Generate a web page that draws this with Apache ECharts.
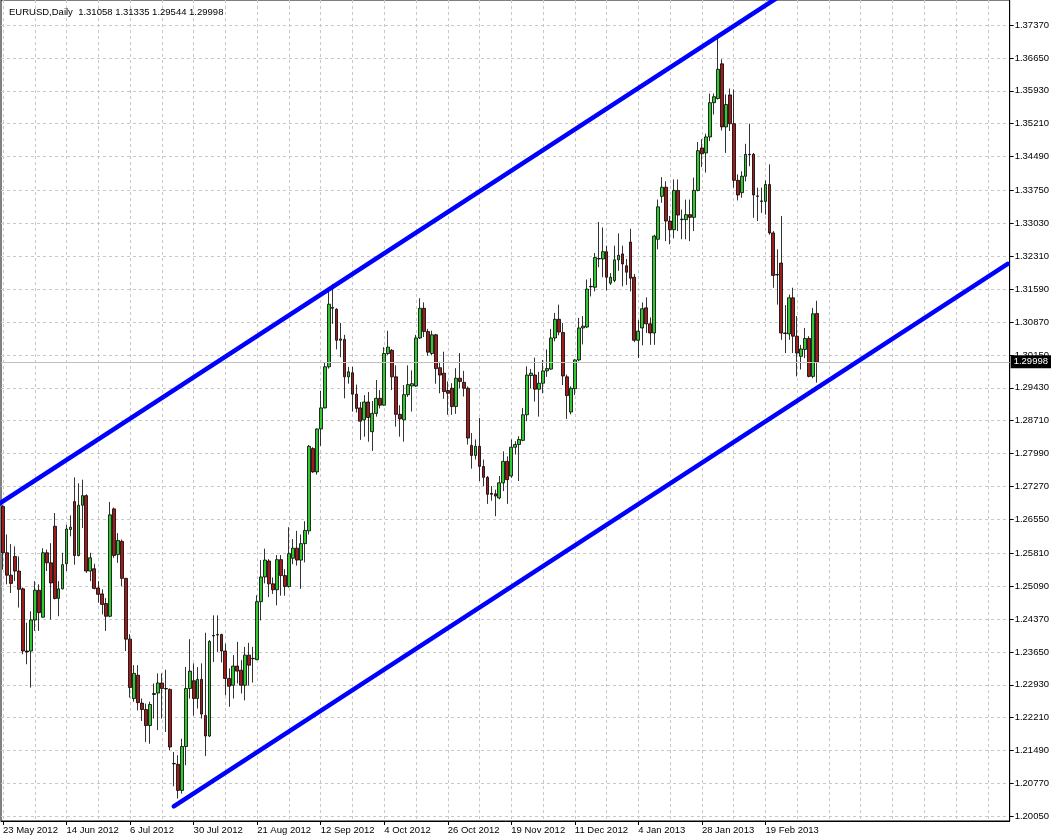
<!DOCTYPE html>
<html><head><meta charset="utf-8">
<script src="https://cdn.jsdelivr.net/npm/echarts@6/dist/echarts.min.js"></script>
<style>html,body{margin:0;padding:0;background:#fff}#c{width:1052px;height:839px}</style>
</head><body><div id="c"></div>
<script>
// ---- data (EURUSD daily) ----
const opens = [
1.2683,1.2582,1.2533,1.2574,1.2542,1.2503,1.2367,1.2367,1.2435,1.2500,
1.2441,1.2582,1.2560,1.2640,1.2482,1.2503,1.2558,1.2633,1.2694,1.2576,
1.2686,1.2707,1.2542,1.2547,1.2505,1.2492,1.2471,1.2443,1.2678,1.2578,
1.2607,1.2526,1.2393,1.2263,1.2314,1.2253,1.2239,1.2204,1.2272,1.2275,
1.2297,1.2285,1.2283,1.2121,1.2119,1.2062,1.2158,1.2285,1.2302,1.2263,
1.2305,1.2226,1.2181,1.2400,1.2402,1.2403,1.2367,1.2307,1.2292,1.2334,
1.2325,1.2292,1.2358,1.2350,1.2348,1.2475,1.2529,1.2564,1.2514,1.2501,
1.2567,1.2532,1.2508,1.2570,1.2592,1.2566,1.2602,1.2630,1.2810,1.2759,
1.2853,1.2899,1.2989,1.3117,1.3115,1.3047,1.3049,1.2967,1.2976,1.2929,
1.2899,1.2873,1.2912,1.2847,1.2887,1.2920,1.2905,1.3018,1.3025,1.2967,
1.2885,1.2873,1.2928,1.2947,1.2947,1.3052,1.3117,1.3066,1.3018,1.3059,
1.2987,1.2975,1.2937,1.2942,1.2902,1.2964,1.2955,1.2942,1.2817,1.2795,
1.2815,1.2771,1.2747,1.2712,1.2711,1.2702,1.2735,1.2782,1.2750,1.2813,
1.2819,1.2828,1.2884,1.2970,1.2971,1.2940,1.2953,1.2980,1.2984,1.3052,
1.3093,1.3064,1.2967,1.2890,1.2941,1.3004,1.3074,1.3076,1.3164,1.3163,
1.3225,1.3225,1.3241,1.3172,1.3178,1.3223,1.3236,1.3210,1.3262,1.3185,
1.3047,1.3074,1.3118,1.3083,1.3063,1.3268,1.3362,1.3382,1.3308,1.3289,
1.3375,1.3312,1.3311,1.3322,1.3316,1.3375,1.3468,1.3457,1.3492,1.3567,
1.3576,1.3652,1.3514,1.3584,1.3521,1.3397,1.3370,1.3406,1.3454,1.3454,
1.3363,1.3352,1.3351,1.3388,1.3282,1.3190,1.3216,1.3063,1.3061,1.3140,
1.3056,1.3012,1.3027,1.3051,1.2968,1.31058];
const highs = [
1.2687,1.2622,1.2601,1.2596,1.2574,1.2506,1.2429,1.2454,1.2520,1.2513,
1.2592,1.2589,1.2603,1.2669,1.2520,1.2582,1.2643,1.2664,1.2747,1.2734,
1.2742,1.2710,1.2582,1.2558,1.2520,1.2502,1.2483,1.2693,1.2681,1.2625,
1.2611,1.2527,1.2404,1.2336,1.2336,1.2263,1.2252,1.2256,1.2296,1.2318,
1.2318,1.2326,1.2285,1.2146,1.2139,1.2175,1.2332,1.2393,1.2340,1.2332,
1.2340,1.2407,1.2391,1.2445,1.2445,1.2405,1.2383,1.2329,1.2358,1.2387,
1.2347,1.2376,1.2385,1.2376,1.2489,1.2566,1.2591,1.2568,1.2528,1.2577,
1.2577,1.2546,1.2638,1.2612,1.2630,1.2622,1.2651,1.2818,1.2813,1.2854,
1.2936,1.2998,1.3159,1.3170,1.3117,1.3085,1.3059,1.2989,1.2989,1.2950,
1.2912,1.2927,1.2934,1.2914,1.2960,1.2938,1.3032,1.3068,1.3028,1.2992,
1.2905,1.2949,1.2992,1.2981,1.3059,1.3139,1.3130,1.3072,1.3068,1.3061,
1.3000,1.3022,1.2957,1.2953,1.2986,1.3019,1.2980,1.2946,1.2844,1.2830,
1.2877,1.2786,1.2750,1.2728,1.2720,1.2750,1.2804,1.2793,1.2830,1.2826,
1.2837,1.2899,1.2990,1.2984,1.3009,1.2978,1.3004,1.3027,1.3072,1.3107,
1.3125,1.3085,1.2972,1.2946,1.3006,1.3096,1.3100,1.3180,1.3183,1.3238,
1.3306,1.3294,1.3254,1.3194,1.3254,1.3281,1.3254,1.3225,1.3291,1.3192,
1.3091,1.3130,1.3141,1.3097,1.3278,1.3355,1.3404,1.3395,1.3319,1.3399,
1.3399,1.3333,1.3355,1.3355,1.3403,1.3481,1.3487,1.3499,1.3587,1.3587,
1.3713,1.3662,1.3585,1.3598,1.3596,1.3410,1.3417,1.3477,1.3521,1.3457,
1.3381,1.3381,1.3397,1.3432,1.3286,1.3246,1.3319,1.3124,1.3147,1.3162,
1.3100,1.3037,1.3074,1.3056,1.3118,1.31335];
const lows = [
1.2545,1.2513,1.2494,1.2520,1.2462,1.2360,1.2338,1.2287,1.2411,1.2411,
1.2440,1.2542,1.2436,1.2480,1.2443,1.2502,1.2542,1.2618,1.2556,1.2574,
1.2636,1.2538,1.2520,1.2502,1.2473,1.2447,1.2411,1.2441,1.2571,1.2560,
1.2509,1.2367,1.2265,1.2256,1.2237,1.2214,1.2168,1.2164,1.2219,1.2194,
1.2219,1.2190,1.2150,1.2071,1.2044,1.2055,1.2117,1.2263,1.2226,1.2241,
1.2219,1.2137,1.2179,1.2343,1.2365,1.2342,1.2270,1.2245,1.2263,1.2296,
1.2274,1.2259,1.2292,1.2298,1.2347,1.2434,1.2515,1.2485,1.2492,1.2467,
1.2488,1.2488,1.2506,1.2557,1.2554,1.2503,1.2561,1.2622,1.2757,1.2753,
1.2816,1.2898,1.2985,1.3083,1.3027,1.3010,1.2920,1.2952,1.2891,1.2889,
1.2829,1.2836,1.2825,1.2805,1.2880,1.2898,1.2904,1.3015,1.2938,1.2858,
1.2836,1.2825,1.2923,1.2891,1.2945,1.3050,1.3054,1.3013,1.3014,1.2952,
1.2931,1.2919,1.2884,1.2884,1.2886,1.2942,1.2924,1.2819,1.2766,1.2786,
1.2739,1.2728,1.2689,1.2696,1.2662,1.2699,1.2717,1.2689,1.2746,1.2797,
1.2739,1.2826,1.2870,1.2942,1.2913,1.2880,1.2931,1.2967,1.2982,1.3045,
1.3058,1.2949,1.2875,1.2885,1.2927,1.3001,1.3038,1.3074,1.3143,1.3154,
1.3207,1.3185,1.3156,1.3168,1.3174,1.3199,1.3165,1.3168,1.3154,1.3043,
1.3008,1.3036,1.3063,1.3037,1.3037,1.3246,1.3348,1.3264,1.3257,1.3270,
1.3286,1.3268,1.3268,1.3264,1.3286,1.3373,1.3426,1.3414,1.3483,1.3541,
1.3574,1.3506,1.3457,1.3505,1.3381,1.3353,1.3359,1.3395,1.3428,1.3315,
1.3308,1.3326,1.3322,1.3278,1.3162,1.3125,1.3048,1.3019,1.3048,1.3019,
1.2968,1.2983,1.3008,1.2966,1.2964,1.29544];
const closes = [
1.2582,1.2533,1.2515,1.2542,1.2502,1.2367,1.2365,1.2435,1.2500,1.2451,
1.2582,1.2560,1.2516,1.2482,1.2503,1.2556,1.2634,1.2638,1.2576,1.2686,
1.2707,1.2542,1.2571,1.2504,1.2491,1.2469,1.2443,1.2665,1.2576,1.2609,
1.2526,1.2393,1.2287,1.2318,1.2254,1.2239,1.2204,1.2250,1.2274,1.2297,
1.2285,1.2284,1.2157,1.2120,1.2062,1.2158,1.2285,1.2323,1.2263,1.2305,
1.2229,1.2181,1.2388,1.2401,1.2403,1.2367,1.2307,1.2290,1.2334,1.2323,
1.2292,1.2358,1.2336,1.2351,1.2475,1.2529,1.2566,1.2514,1.2501,1.2567,
1.2532,1.2508,1.2580,1.2592,1.2566,1.2602,1.2631,1.2815,1.2759,1.2853,
1.2899,1.2989,1.3126,1.3119,1.3047,1.3050,1.2967,1.2978,1.2929,1.2898,
1.2870,1.2912,1.2878,1.2887,1.2920,1.2905,1.3018,1.3032,1.2967,1.2885,
1.2875,1.2928,1.2950,1.2952,1.3052,1.3117,1.3066,1.3021,1.3059,1.2985,
1.2971,1.2935,1.2931,1.2902,1.2964,1.2957,1.2942,1.2833,1.2795,1.2815,
1.2771,1.2747,1.2710,1.2710,1.2706,1.2735,1.2782,1.2742,1.2813,1.2819,
1.2830,1.2884,1.2971,1.2975,1.2940,1.2953,1.2980,1.2985,1.3052,1.3093,
1.3065,1.2969,1.2926,1.2942,1.3004,1.3074,1.3078,1.3159,1.3165,1.3228,
1.3226,1.3241,1.3185,1.3185,1.3223,1.3233,1.3214,1.3196,1.3183,1.3047,
1.3067,1.3116,1.3083,1.3063,1.3275,1.3339,1.3382,1.3308,1.3289,1.3375,
1.3321,1.3311,1.3322,1.3316,1.3375,1.3462,1.3455,1.3492,1.3567,1.3580,
1.3640,1.3514,1.3563,1.3521,1.3397,1.3365,1.3406,1.3454,1.3453,1.3365,
1.3362,1.3351,1.3388,1.3282,1.3189,1.3191,1.3063,1.3062,1.3140,1.3056,
1.3019,1.3028,1.3051,1.2968,1.3105,1.29998];

// channel trend lines: [bar index, price]
const upperChannel = [[-1, 1.2689], [200, 1.3825]];
const lowerChannel = [[43, 1.2027], [253, 1.3214]];

const yTicks = [1.20050,1.20770,1.21490,1.22210,1.22930,1.23650,1.24370,1.25090,1.25810,
  1.26550,1.27270,1.27990,1.28710,1.29430,1.30150,1.30870,1.31590,1.32310,1.33030,
  1.33750,1.34490,1.35210,1.35930,1.36650,1.37370];
const xTickLabels = ['23 May 2012','14 Jun 2012','6 Jul 2012','30 Jul 2012','21 Aug 2012',
  '12 Sep 2012','4 Oct 2012','26 Oct 2012','19 Nov 2012','11 Dec 2012','4 Jan 2013',
  '28 Jan 2013','19 Feb 2013'];
const lastPrice = 1.29998;
const headerText = 'EURUSD,Daily  1.31058 1.31335 1.29544 1.29998';

// ---- trading-day categories (weekdays, no bars on 25 Dec / 1 Jan) ----
const months = ['Jan','Feb','Mar','Apr','May','Jun','Jul','Aug','Sep','Oct','Nov','Dec'];
const holidays = ['2012-12-25','2013-01-01'];
const totalSlots = 254;
const dates = [];
{
  const d = new Date(Date.UTC(2012, 4, 23));
  while (dates.length < totalSlots) {
    const dow = d.getUTCDay();
    const iso = d.toISOString().slice(0, 10);
    if (dow !== 0 && dow !== 6 && holidays.indexOf(iso) < 0) {
      dates.push(d.getUTCDate() + ' ' + months[d.getUTCMonth()] + ' ' + d.getUTCFullYear());
    }
    d.setUTCDate(d.getUTCDate() + 1);
  }
}
const nBars = closes.length;
const candleData = closes.map((c, i) => [opens[i], c, lows[i], highs[i]]);
const isLabelled = (i) => xTickLabels.indexOf(dates[i]) >= 0 && i < nBars;

const FONT = 'Liberation Sans';
const chart = echarts.init(document.getElementById('c'));
chart.setOption({
  animation: false,
  backgroundColor: '#ffffff',
  title: {
    text: headerText, left: 4, top: 2,
    textStyle: { fontFamily: FONT, fontSize: 9.5, fontWeight: 'normal', color: '#000' }
  },
  grid: { left: 0.7, right: 41, top: 0, bottom: 18, show: true, borderColor: '#000', borderWidth: 1, backgroundColor: 'transparent' },
  xAxis: {
    type: 'category', data: dates, boundaryGap: true,
    axisLine: { show: true, lineStyle: { color: '#000', width: 1 } },
    axisTick: { show: true, alignWithLabel: true, interval: (i) => isLabelled(i), length: 4, lineStyle: { color: '#000' } },
    axisLabel: { interval: (i) => isLabelled(i), align: 'left', margin: 4, color: '#000', fontFamily: FONT, fontSize: 9.5 },
    splitLine: { show: true, alignWithLabel: true, interval: (i) => i % 8 === 0, lineStyle: { color: '#c8c8c8', type: [3, 3], width: 1 } }
  },
  yAxis: {
    type: 'value', position: 'right', min: 1.1995, max: 1.37917, scale: true,
    axisLine: { show: true, lineStyle: { color: '#000', width: 1 } },
    axisTick: { show: true, customValues: yTicks, length: 4, lineStyle: { color: '#000' } },
    axisLabel: { customValues: yTicks, formatter: (v) => v.toFixed(5), margin: 5, color: '#000', fontFamily: FONT, fontSize: 9.5 },
    splitLine: { show: true, lineStyle: { color: '#c8c8c8', type: [3, 3], width: 1 } }
  },
  series: [
    {
      type: 'candlestick', data: candleData, barWidth: 3.3,
      itemStyle: { color: '#32c832', color0: '#a01c1c', borderColor: '#000', borderColor0: '#000', borderColorDoji: '#000', borderWidth: 0.8 },
      markLine: {
        silent: true, symbol: ['none', 'none'],
        lineStyle: { color: '#c0c0c0', type: 'solid', width: 1 },
        label: { position: 'end', distance: 1, formatter: lastPrice.toFixed(5), backgroundColor: '#000', color: '#fff', fontFamily: FONT, fontSize: 9.5, padding: [2, 3, 1, 3] },
        data: [{ yAxis: lastPrice }]
      }
    },
    { type: 'line', data: upperChannel, symbol: 'none', clip: true, lineStyle: { color: '#0000ff', width: 4.5, cap: 'round' }, z: 5 },
    { type: 'line', data: lowerChannel, symbol: 'none', clip: true, lineStyle: { color: '#0000ff', width: 4.5, cap: 'round' }, z: 5 }
  ]
});
</script>
</body></html>
